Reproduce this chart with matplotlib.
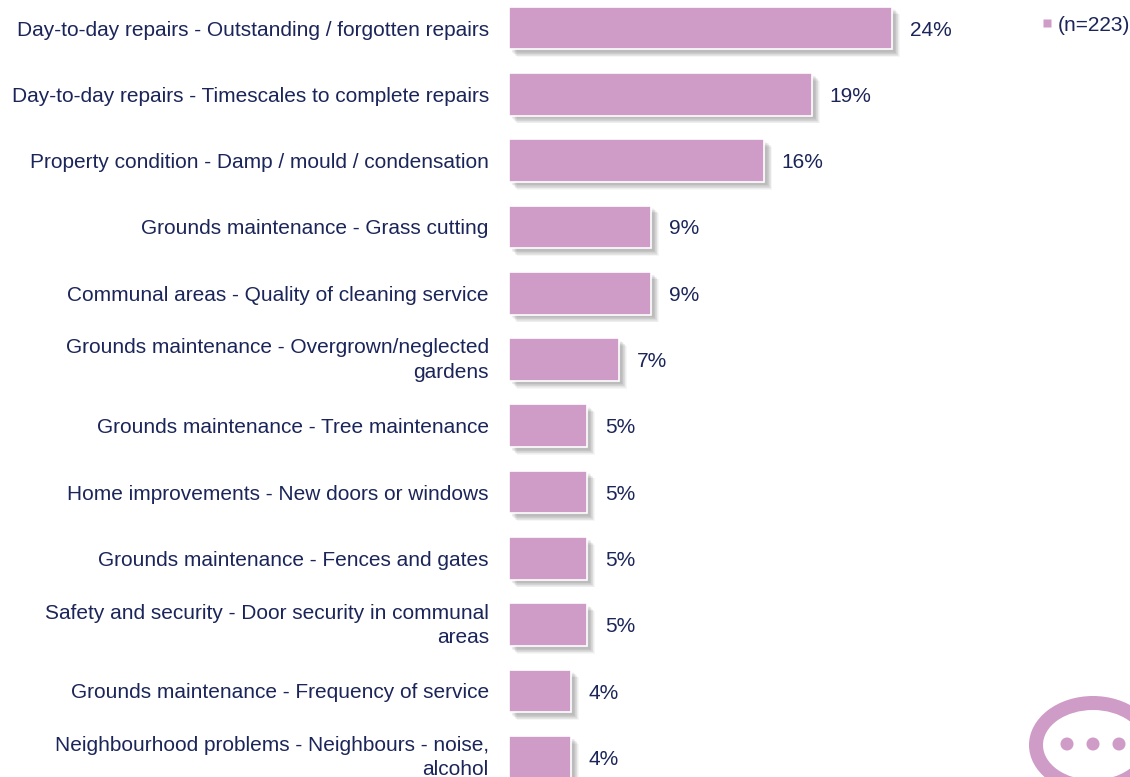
# Grafico de barras horizontal con sombra e icono

import matplotlib
matplotlib.use('Agg')
import matplotlib.pyplot as plt
import matplotlib.patheffects as pe
from matplotlib.lines import Line2D
from matplotlib.patches import Ellipse, Circle
from matplotlib.transforms import ScaledTranslation

plt.rcParams['font.family'] = ['Liberation Sans', 'DejaVu Sans']

categories = [
    'Day-to-day repairs - Outstanding / forgotten repairs',
    'Day-to-day repairs - Timescales to complete repairs',
    'Property condition - Damp / mould / condensation',
    'Grounds maintenance - Grass cutting',
    'Communal areas - Quality of cleaning service',
    'Grounds maintenance - Overgrown/neglected\ngardens',
    'Grounds maintenance - Tree maintenance',
    'Home improvements - New doors or windows',
    'Grounds maintenance - Fences and gates',
    'Safety and security - Door security in communal\nareas',
    'Grounds maintenance - Frequency of service',
    'Neighbourhood problems - Neighbours - noise,\nalcohol',
]
values = [24.0, 19.0, 16.0, 8.9, 8.9, 6.9, 4.9, 4.9, 4.9, 4.9, 3.9, 3.9]
value_labels = ['24%', '19%', '16%', '9%', '9%', '7%', '5%', '5%', '5%', '5%', '4%', '4%']
series_name = '(n=223)'

bar_color = '#CF9BC7'
text_color = '#1B2559'

W, H = 1130, 777
fig = plt.figure(figsize=(W / 100, H / 100), dpi=100, facecolor='white')

# Ejes colocados en pixeles: barras desde x=509, filas cada 66.3 px
left = 509
px_per_unit = 15.96
row = 66.3
first = 28
ax = fig.add_axes([left / W, 0, 1 - left / W, 1])
ax.set_xlim(0, (W - left) / px_per_unit)
ax.set_ylim((H - first) / row, -first / row)

# Sombra difuminada con varias capas
shadow = [pe.SimplePatchShadow(offset=(o, -o), shadow_rgbFace='#000000', alpha=0.035)
          for o in (5.5, 5, 4.5, 4, 3.5, 3, 2.5, 2)]
bars = ax.barh(range(len(values)), values, height=0.645, color=bar_color,
               edgecolor='white', linewidth=1.2)
for b in bars:
    b.set_path_effects(shadow + [pe.Normal()])

ax.set_yticks(range(len(categories)))
ax.set_yticklabels(categories, fontsize=15.04, color=text_color, ha='right',
                   linespacing=1.35)
ax.tick_params(axis='y', length=0, pad=14.5)
ax.tick_params(axis='x', bottom=False, labelbottom=False)
for s in ax.spines.values():
    s.set_visible(False)
ax.patch.set_alpha(0)

# Las etiquetas de dos lineas van un poco mas arriba
up = ScaledTranslation(0, 3.0 / 72, fig.dpi_scale_trans)
for lab in ax.get_yticklabels():
    if '\n' in lab.get_text():
        lab.set_transform(lab.get_transform() + up)

for i, (v, t) in enumerate(zip(values, value_labels)):
    ax.annotate(t, (v, i), xytext=(12.6, -1.5), textcoords='offset points',
                va='center', ha='left', fontsize=15, color=text_color)

handle = Line2D([], [], marker='s', linestyle='none', markersize=5.8,
                markerfacecolor=bar_color, markeredgecolor='none')
ax.legend([handle], [series_name], loc='upper right', bbox_to_anchor=(1.0, 0.98),
          frameon=False, fontsize=15, labelcolor=text_color, handlelength=0.39,
          handletextpad=0.33, borderaxespad=0, borderpad=0, numpoints=1)

# Icono de burbuja abajo a la derecha, en pixeles
icon = fig.add_axes([0, 0, 1, 1], zorder=-1)
icon.set_xlim(0, W)
icon.set_ylim(H, 0)
icon.axis('off')
icon.add_patch(Ellipse((1093, 745), 128, 98, facecolor=bar_color, edgecolor='none'))
icon.add_patch(Ellipse((1093, 745), 100, 70, facecolor='white', edgecolor='none'))
for cx in (1067, 1093, 1119):
    icon.add_patch(Circle((cx, 744), 6.5, facecolor=bar_color, edgecolor='none'))

fig.savefig('out.png', dpi=100)
